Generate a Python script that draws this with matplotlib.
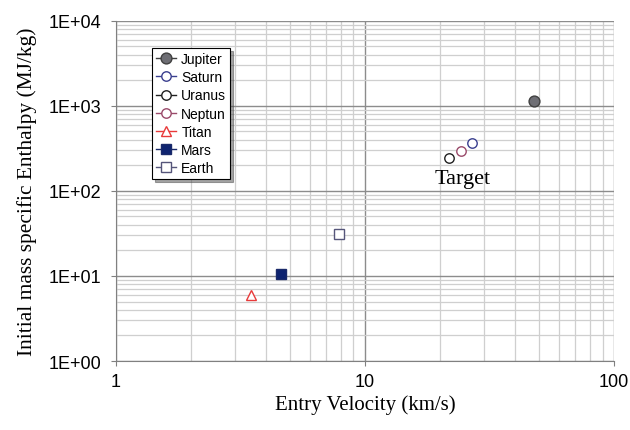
import matplotlib
matplotlib.use('Agg')
import matplotlib.pyplot as plt
from matplotlib.ticker import LogLocator, FixedLocator, NullFormatter

# data
planets = ['Jupiter', 'Saturn', 'Uranus', 'Neptun', 'Titan', 'Mars', 'Earth']
velocity = [47.9, 26.9, 21.8, 24.4, 3.49, 4.62, 7.9]       # km/s
enthalpy = [1140.0, 364.0, 241.0, 296.0, 5.97, 10.6, 31.1]  # MJ/kg

markers = ['o', 'o', 'o', 'o', '^', 's', 's']
edge_colors = ['#404040', '#3a3f8f', '#202020', '#9a4a6a', '#e83a3a', '#1a2a6a', '#55557a']
face_colors = ['#6e6e74', 'white', 'white', 'white', 'white', '#0e2370', 'white']
sizes = [7.8, 6.8, 6.8, 6.8, 6.8, 6.8, 6.9]

x_ticks = [1, 10, 100]
x_ticklabels = ['1', '10', '100']
y_ticks = [1, 10, 100, 1000, 10000]
y_ticklabels = ['1E+00', '1E+01', '1E+02', '1E+03', '1E+04']

fig = plt.figure(figsize=(6.3, 4.31), dpi=100)
ax = fig.add_axes([0.1837, 0.160, 0.791, 0.7896])

for name, x, y, m, ec, fc, s in zip(planets, velocity, enthalpy, markers, edge_colors, face_colors, sizes):
	ax.plot([x], [y], '-', marker=m, color=ec, markeredgecolor=ec, markerfacecolor=fc,
			markersize=s, markeredgewidth=1.0, lw=1.0, label=name, zorder=3)

ax.set_xscale('log')
ax.set_yscale('log')
ax.set_xlim(1, 100)
ax.set_ylim(1, 10000)

ax.xaxis.set_major_locator(FixedLocator(x_ticks))
ax.set_xticklabels(x_ticklabels)
ax.yaxis.set_major_locator(FixedLocator(y_ticks))
ax.set_yticklabels(y_ticklabels)
ax.xaxis.set_minor_locator(LogLocator(base=10, subs=range(2, 10)))
ax.yaxis.set_minor_locator(LogLocator(base=10, subs=range(2, 10)))
ax.xaxis.set_minor_formatter(NullFormatter())
ax.yaxis.set_minor_formatter(NullFormatter())

ax.grid(which='major', color='#8c8c8c', lw=1.0, zorder=0)
ax.grid(which='minor', color='#cfcfcf', lw=0.9, zorder=0)
ax.set_axisbelow(True)

ax.tick_params(which='major', direction='out', length=3.6, width=0.8, color='#808080',
			   labelsize=13)
ax.tick_params(axis='y', pad=7)
ax.tick_params(axis='x', pad=5)
ax.tick_params(which='minor', length=0)
for lab in ax.get_xticklabels() + ax.get_yticklabels():
	lab.set_family('Liberation Sans')

for side in ['left', 'bottom']:
	ax.spines[side].set_color('#808080')
for side in ['top', 'right']:
	ax.spines[side].set_visible(False)

ax.set_xlabel('Entry Velocity (km/s)', family='Liberation Serif', fontsize=15, labelpad=3)
ax.set_ylabel('Initial mass specific Enthalpy (MJ/kg)', family='Liberation Serif', fontsize=15.4, labelpad=8)

ax.text(24.6, 141, 'Target', family='Liberation Serif', fontsize=16, ha='center', va='center')

leg = ax.legend(loc='upper left', bbox_to_anchor=(0.073, 0.92), borderaxespad=0,
				prop={'family': 'Liberation Sans', 'size': 10}, numpoints=1,
				handlelength=1.4, handletextpad=0.4, labelspacing=0.3,
				borderpad=0.3, fancybox=False, shadow=True, framealpha=1)
leg.get_frame().set_edgecolor('black')
leg.get_frame().set_linewidth(0.8)

fig.savefig('out.png', dpi=100)
